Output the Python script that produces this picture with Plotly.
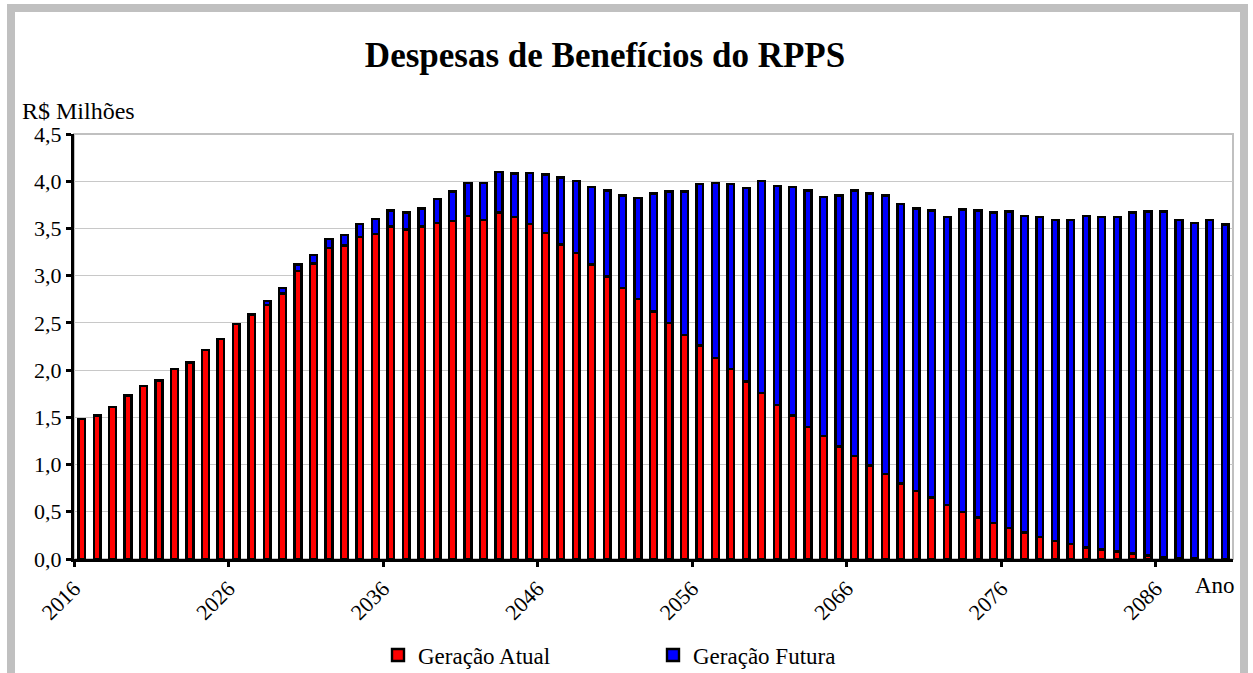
import plotly.graph_objects as go

years = list(range(2016, 2091))

total = [1.48, 1.52, 1.61, 1.73, 1.83, 1.89, 2.01, 2.08, 2.21, 2.33,
         2.49, 2.59, 2.73, 2.87, 3.12, 3.22, 3.39, 3.43, 3.55, 3.60,
         3.69, 3.67, 3.71, 3.81, 3.89, 3.98, 3.98, 4.10, 4.08, 4.09,
         4.07, 4.04, 4.00, 3.94, 3.90, 3.85, 3.82, 3.87, 3.89, 3.89,
         3.97, 3.98, 3.97, 3.93, 4.00, 3.95, 3.94, 3.90, 3.83, 3.85,
         3.90, 3.87, 3.85, 3.76, 3.71, 3.69, 3.62, 3.70, 3.69, 3.67,
         3.68, 3.63, 3.62, 3.59, 3.59, 3.63, 3.62, 3.62, 3.67, 3.68,
         3.68, 3.59, 3.56, 3.59, 3.54]

atual = [1.48, 1.52, 1.61, 1.73, 1.83, 1.89, 2.01, 2.08, 2.21, 2.33,
         2.49, 2.59, 2.69, 2.81, 3.05, 3.13, 3.29, 3.32, 3.41, 3.44,
         3.52, 3.49, 3.52, 3.56, 3.58, 3.63, 3.59, 3.67, 3.62, 3.55,
         3.45, 3.33, 3.24, 3.12, 2.99, 2.87, 2.75, 2.62, 2.50, 2.37,
         2.26, 2.13, 2.01, 1.88, 1.76, 1.63, 1.52, 1.40, 1.30, 1.19,
         1.09, 0.99, 0.90, 0.80, 0.72, 0.65, 0.57, 0.50, 0.44, 0.38,
         0.33, 0.28, 0.23, 0.19, 0.16, 0.12, 0.10, 0.08, 0.06, 0.035,
         0.02, 0.01, 0.005, 0.003, 0.0]

futura = [round(t - a, 3) for t, a in zip(total, atual)]

tick_years = [2016, 2026, 2036, 2046, 2056, 2066, 2076, 2086]
tick_labels = [str(y) for y in tick_years]

FONT = "Liberation Serif"

fig = go.Figure()
fig.add_trace(go.Bar(x=years, y=atual, name="Geração Atual", width=0.44,
                     marker=dict(color="#FF0000", line=dict(color="black", width=2.4))))
fig.add_trace(go.Bar(x=years, y=futura, name="Geração Futura", width=0.44,
                     marker=dict(color="#0000FF", line=dict(color="black", width=2.4))))

fig.update_layout(
    width=1253, height=673,
    barmode="stack",
    separators=",.",
    paper_bgcolor="white", plot_bgcolor="white",
    margin=dict(l=74, r=20, t=134, b=114, autoexpand=False),
    font=dict(family=FONT, size=22, color="black"),
    title=dict(text="<b>Despesas de Benefícios do RPPS</b>", x=605/1253, xref="container",
               xanchor="center", y=1-55/673, yref="container", yanchor="middle",
               font=dict(family=FONT, size=35, color="black")),
    legend=dict(orientation="h", x=(378-74)/1159, xanchor="left",
                y=(559-655)/425, yanchor="middle", traceorder="normal",
                entrywidth=230, entrywidthmode="pixels",
                font=dict(family=FONT, size=23, color="black"),
                bgcolor="rgba(0,0,0,0)"),
    showlegend=True,
)

fig.update_xaxes(
    range=[2015.5, 2090.5],
    tickmode="array",
    tickvals=[y - 0.5 for y in tick_years],
    ticktext=tick_labels,
    tickangle=-45,
    ticks="outside", ticklen=5, tickwidth=3, tickcolor="black",
    showline=True, linecolor="black", linewidth=3,
    showgrid=False, zeroline=False, automargin=False,
    tickfont=dict(family=FONT, size=22, color="black"),
)
fig.update_yaxes(
    range=[0, 4.5],
    tickmode="array",
    tickvals=[0, 0.5, 1, 1.5, 2, 2.5, 3, 3.5, 4, 4.5],
    tickformat=".1f",
    ticks="outside", ticklen=5, tickwidth=3, tickcolor="black",
    showline=True, linecolor="black", linewidth=3,
    showgrid=True, gridcolor="#c8c8c8", gridwidth=1,
    zeroline=False, automargin=False,
    tickfont=dict(family=FONT, size=22, color="black"),
)

# plot area border (gray) on top/right
fig.add_shape(type="rect", xref="paper", yref="paper", x0=0, x1=1, y0=0, y1=1,
              line=dict(color="#c0c0c0", width=2), layer="below")
# outer chart frame
fig.add_shape(type="rect", xref="paper", yref="paper",
              x0=(11-74)/1159, x1=(1244-74)/1159,
              y0=(559-720)/425, y1=(559-8)/425,
              line=dict(color="#c0c0c0", width=8), layer="below")

fig.add_annotation(text="R$ Milhões", xref="paper", yref="paper",
                   x=(20-74)/1159, y=(559-111)/425, xanchor="left", yanchor="middle",
                   showarrow=False, font=dict(family=FONT, size=24, color="black"))
fig.add_annotation(text="Ano", xref="paper", yref="paper",
                   x=(1215-74)/1159, y=(559-585)/425, xanchor="center", yanchor="middle",
                   showarrow=False, font=dict(family=FONT, size=23, color="black"))

fig.write_html("out.html", config={"displayModeBar": False},
               post_script="document.body.style.margin='0px';document.body.style.padding='0px';")
